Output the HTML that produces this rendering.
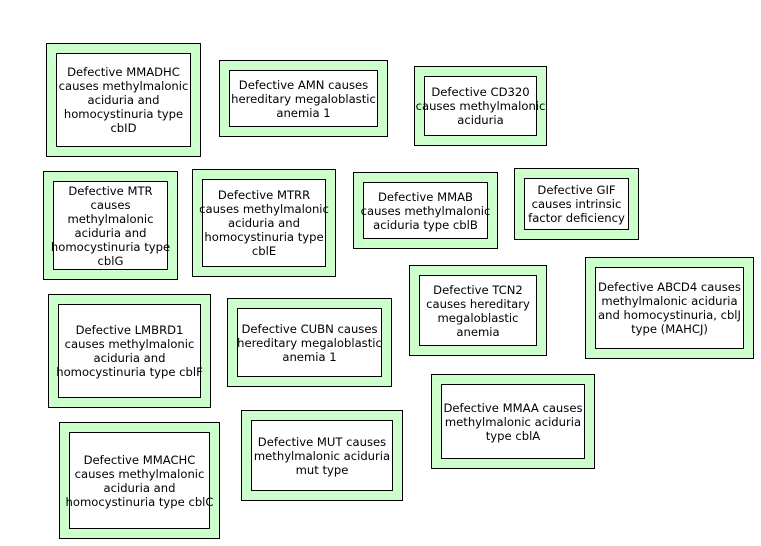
<!DOCTYPE html><html><head><style>
body{margin:0;width:761px;height:546px;background:#fff;position:relative;overflow:hidden;font-family:"DejaVu Sans","Liberation Sans",sans-serif;}
.o{position:absolute;background:#ccffcc;border:1px solid #000;box-sizing:border-box}
.i{position:absolute;left:9px;top:9px;right:9px;bottom:9px;background:#fff;border:1px solid #000;display:flex;align-items:center;justify-content:center;text-align:center;font-size:11.6px;line-height:14px;color:#000;white-space:nowrap}
</style></head><body>
<div class="o" style="left:46px;top:43px;width:155px;height:114px"><div class="i">Defective MMADHC<br>causes methylmalonic<br>aciduria and<br>homocystinuria type<br>cbID</div></div>
<div class="o" style="left:219px;top:60px;width:169px;height:77px"><div class="i">Defective AMN causes<br>hereditary megaloblastic<br>anemia 1</div></div>
<div class="o" style="left:414px;top:66px;width:133px;height:80px"><div class="i">Defective CD320<br>causes methylmalonic<br>aciduria</div></div>
<div class="o" style="left:43px;top:171px;width:135px;height:109px"><div class="i">Defective MTR<br>causes<br>methylmalonic<br>aciduria and<br>homocystinuria type<br>cblG</div></div>
<div class="o" style="left:192px;top:169px;width:144px;height:108px"><div class="i">Defective MTRR<br>causes methylmalonic<br>aciduria and<br>homocystinuria type<br>cblE</div></div>
<div class="o" style="left:353px;top:172px;width:145px;height:77px"><div class="i">Defective MMAB<br>causes methylmalonic<br>aciduria type cblB</div></div>
<div class="o" style="left:514px;top:168px;width:125px;height:72px"><div class="i">Defective GIF<br>causes intrinsic<br>factor deficiency</div></div>
<div class="o" style="left:409px;top:265px;width:138px;height:91px"><div class="i">Defective TCN2<br>causes hereditary<br>megaloblastic<br>anemia</div></div>
<div class="o" style="left:585px;top:257px;width:169px;height:102px"><div class="i">Defective ABCD4 causes<br>methylmalonic aciduria<br>and homocystinuria, cblJ<br>type (MAHCJ)</div></div>
<div class="o" style="left:48px;top:294px;width:163px;height:114px"><div class="i">Defective LMBRD1<br>causes methylmalonic<br>aciduria and<br>homocystinuria type cblF</div></div>
<div class="o" style="left:227px;top:298px;width:165px;height:89px"><div class="i">Defective CUBN causes<br>hereditary megaloblastic<br>anemia 1</div></div>
<div class="o" style="left:431px;top:374px;width:164px;height:95px"><div class="i">Defective MMAA causes<br>methylmalonic aciduria<br>type cblA</div></div>
<div class="o" style="left:59px;top:422px;width:161px;height:117px"><div class="i">Defective MMACHC<br>causes methylmalonic<br>aciduria and<br>homocystinuria type cblC</div></div>
<div class="o" style="left:241px;top:410px;width:162px;height:91px"><div class="i">Defective MUT causes<br>methylmalonic aciduria<br>mut type</div></div>
</body></html>
